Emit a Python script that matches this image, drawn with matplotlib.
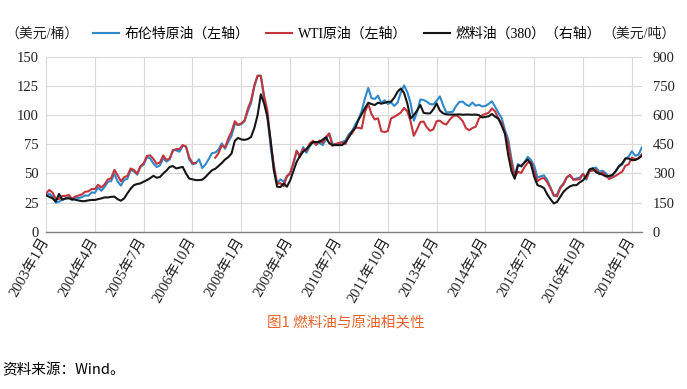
import numpy as np
import pandas as pd
import matplotlib
matplotlib.use('Agg')
import matplotlib.pyplot as plt

plt.rcParams['font.family'] = ['Liberation Serif', 'Noto Sans CJK SC']
plt.rcParams['axes.unicode_minus'] = False

# monthly categories, 2003-01 .. 2018-04
months = pd.date_range('2003-01-01', periods=184, freq='MS')

# Brent, USD/bbl (left axis)
brent = [
    31.3, 32.7, 30.3, 25.0, 25.8, 27.6, 28.4, 29.8, 27.1, 29.6, 28.8, 29.8,
    31.2, 30.9, 33.8, 33.4, 37.9, 35.2, 38.4, 43.0, 43.4, 49.8, 43.1, 39.6,
    44.5, 45.5, 53.1, 51.9, 49.0, 55.6, 57.6, 64.1, 62.9, 58.5, 55.5, 56.9,
    63.0, 60.2, 62.1, 70.3, 69.8, 68.7, 73.7, 73.2, 62.0, 58.0, 58.6, 62.2,
    54.6, 57.8, 62.4, 67.5, 67.9, 70.6, 75.8, 71.2, 77.1, 82.3, 92.5, 91.5,
    92.2, 94.9, 103.3, 110.4, 124.6, 133.5, 133.9, 113.9, 99.1, 72.8, 53.2, 41.6,
    44.9, 43.2, 46.8, 50.9, 58.1, 69.1, 65.4, 72.5, 67.7, 73.2, 77.0, 74.7,
    76.4, 74.3, 79.3, 84.2, 75.6, 74.8, 75.6, 77.1, 78.2, 83.5, 86.1, 92.0,
    96.5, 103.7, 114.6, 123.3, 114.5, 113.9, 116.7, 110.4, 112.8, 109.6, 110.8, 107.9,
    110.7, 119.3, 125.5, 119.8, 110.3, 95.2, 102.6, 113.4, 113.0, 111.5, 109.5, 109.2,
    112.3, 116.1, 108.5, 102.3, 102.6, 102.9, 107.9, 111.3, 111.6, 109.1, 107.8, 110.8,
    108.1, 108.9, 107.5, 107.8, 109.7, 111.9, 107.0, 101.9, 97.3, 87.3, 79.4, 62.3,
    47.8, 58.1, 55.9, 59.5, 64.3, 61.5, 56.6, 46.5, 47.6, 48.4, 44.3, 38.0,
    30.7, 32.2, 38.2, 41.6, 46.7, 48.3, 44.9, 45.8, 46.6, 49.5, 44.7, 53.3,
    54.6, 55.0, 51.6, 52.3, 50.3, 46.4, 48.5, 51.7, 56.2, 57.5, 62.7, 64.4,
    69.1, 65.3, 66.0, 72.1,
]

# WTI, USD/bbl (left axis); gap where the line is not drawn in the source
nan = np.nan
wti = [
    32.9, 35.9, 33.6, 28.3, 28.1, 30.7, 30.8, 31.6, 28.3, 30.3, 31.1, 32.1,
    34.3, 34.7, 36.7, 36.7, 40.3, 38.0, 40.7, 44.9, 45.9, 53.1, 48.5, 43.3,
    46.8, 48.0, 54.3, 53.0, 49.8, 56.3, 58.7, 65.0, 65.6, 62.4, 58.3, 59.4,
    65.5, 61.6, 62.9, 69.7, 70.9, 70.9, 74.4, 73.0, 63.8, 58.9, 59.1, nan,
    nan, nan, nan, nan, 63.5, 67.5, 74.1, 72.4, 79.9, 85.8, 94.8, 91.7,
    93.0, 95.4, 105.5, 112.6, 125.4, 133.9, 133.4, 116.7, 104.1, 76.6, 57.3, 41.1,
    41.7, 39.1, 47.9, 49.7, 59.0, 69.6, 64.2, 71.1, 69.4, 75.7, 78.0, 74.5,
    78.3, 76.4, 81.2, 84.3, 73.7, 75.3, 76.3, 76.6, 75.2, 81.9, 84.3, 89.2,
    89.2, 88.6, 102.9, 109.5, 100.9, 96.3, 97.3, 86.3, 85.5, 86.3, 97.2, 98.6,
    100.3, 102.2, 106.2, 103.3, 94.7, 82.3, 87.9, 94.1, 94.5, 89.5, 86.5, 87.9,
    94.8, 95.3, 92.9, 92.0, 96.0, 99.0, 100.0, 98.0, 95.0, 89.0, 87.0, 89.0,
    90.0, 97.0, 100.0, 101.0, 102.0, 105.8, 103.0, 97.0, 93.2, 84.4, 75.8, 59.3,
    47.2, 51.5, 50.5, 55.5, 59.3, 59.8, 51.5, 43.5, 45.5, 46.2, 42.4, 37.2,
    31.7, 30.3, 37.5, 40.8, 46.7, 48.8, 44.7, 44.7, 45.2, 49.8, 45.7, 52.0,
    52.5, 53.5, 49.3, 51.1, 48.5, 45.2, 46.6, 48.0, 49.8, 51.6, 56.6, 57.9,
    63.7, 62.2, 62.7, 66.3,
]

# fuel oil 380, USD/t (right axis)
fuel = [
    188, 180, 172, 156, 195, 165, 172, 172, 168, 165, 161, 158,
    158, 162, 164, 164, 168, 172, 177, 177, 180, 181, 168, 160,
    172, 198, 222, 240, 246, 249, 258, 266, 276, 288, 278, 282,
    300, 315, 334, 338, 326, 330, 334, 300, 274, 270, 266, 266,
    268, 282, 300, 317, 324, 339, 354, 372, 384, 403, 468, 483,
    475, 473, 477, 488, 534, 600, 707, 660, 592, 472, 317, 232,
    230, 249, 232, 264, 312, 360, 390, 412, 426, 444, 462, 462,
    462, 474, 486, 456, 446, 446, 446, 446, 462, 486, 516, 534,
    576, 606, 636, 664, 657, 652, 664, 659, 663, 669, 669, 690,
    720, 737, 714, 660, 583, 600, 624, 652, 612, 609, 609, 630,
    660, 624, 609, 604, 603, 603, 603, 604, 602, 603, 603, 602,
    603, 600, 588, 591, 594, 606, 592, 582, 546, 504, 396, 312,
    273, 342, 339, 357, 372, 348, 282, 240, 234, 225, 192, 168,
    146, 154, 180, 206, 222, 234, 240, 240, 255, 265, 288, 321,
    326, 306, 300, 294, 285, 288, 292, 312, 336, 352, 377, 377,
    369, 369, 378, 390,
]

labels = ['布伦特原油（左轴）', 'WTI原油（左轴）', '燃料油（380）（右轴）']
colors = ['#3089cb', '#c4343c', '#161616']

x = np.arange(len(months))
tick_pos = x[::15]
tick_labels = [f'{d.year}年{d.month}月' for d in months[::15]]

fig = plt.figure(figsize=(6.87, 3.89), dpi=100)
ax = fig.add_axes([0.067, 0.404, 0.867, 0.450])
ax2 = ax.twinx()

l1, = ax.plot(x, brent, color=colors[0], lw=1.5, label=labels[0])
l2, = ax.plot(x, wti, color=colors[1], lw=1.5, label=labels[1])
l3, = ax2.plot(x, fuel, color=colors[2], lw=1.5, label=labels[2])

ax.set_xlim(0, len(x) - 1)
ax.set_ylim(0, 150)
ax.set_yticks(np.arange(0, 151, 25))
ax2.set_ylim(0, 900)
ax2.set_yticks(np.arange(0, 901, 150))

ax.set_xticks(tick_pos)
ax.set_xticklabels(tick_labels, rotation=60, ha='right', va='center',
                   rotation_mode='anchor')
ax.grid(True, color='#d9d9d9', lw=0.8)
ax.set_axisbelow(True)

for a in (ax, ax2):
    for s in ('top', 'left', 'right', 'bottom'):
        a.spines[s].set_visible(False)
ax.spines['bottom'].set_visible(True)
ax.spines['bottom'].set_color('#808080')
ax.spines['bottom'].set_linewidth(1.0)

ax.tick_params(axis='y', length=0, labelsize=10.5, pad=5, colors='#222222')
ax.tick_params(axis='x', length=0, labelsize=10.5, pad=5, colors='#222222')
ax2.tick_params(axis='y', length=0, labelsize=10.5, pad=8, colors='#222222')
for t in ax.get_yticklabels() + ax2.get_yticklabels():
    t.set_family(['Liberation Serif'])

fig.legend(handles=[l1, l2, l3], loc='center', bbox_to_anchor=(0.505, 0.912),
           ncol=3, frameon=False, fontsize=10, handlelength=1.9,
           handletextpad=0.4, columnspacing=1.2, borderaxespad=0)
fig.text(0.008, 0.912, '（美元/桶）', ha='left', va='center', fontsize=10,
         color='#222222')
fig.text(0.984, 0.912, '（美元/吨）', ha='right', va='center', fontsize=10,
         color='#222222')

fig.text(0.503, 0.172, '图1 燃料油与原油相关性', ha='center', va='center',
         fontsize=10.5, color='#e8632a', family=['Noto Sans CJK SC'])
fig.text(0.004, 0.049, '资料来源：Wind。', ha='left', va='center',
         fontsize=10.5, color='black', family=['Noto Sans CJK SC'])

fig.savefig('out.png', dpi=100)
